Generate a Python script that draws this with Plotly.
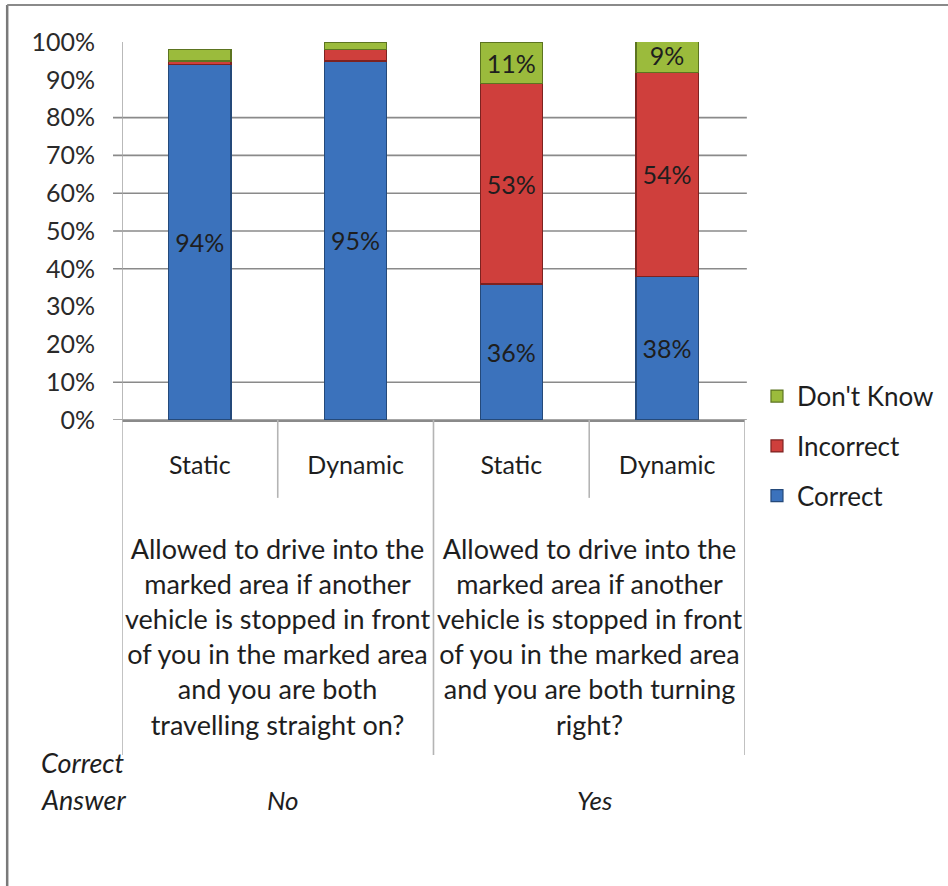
import plotly.graph_objects as go

# ---- data ----
positions = [0, 1, 2, 3]
bar_labels = ["Static", "Dynamic", "Static", "Dynamic"]
correct = [94, 95, 36, 38]
incorrect = [1, 3, 53, 54]
dont_know = [3, 2, 11, 9]
group_labels = [
    "Allowed to drive into the<br>marked area if another<br>vehicle is stopped in front<br>of you in the marked area<br>and you are both<br>travelling straight on?",
    "Allowed to drive into the<br>marked area if another<br>vehicle is stopped in front<br>of you in the marked area<br>and you are both turning<br>right?",
]
group_members = [[0, 1], [2, 3]]
correct_answers = ["No", "Yes"]
y_ticks = [0, 10, 20, 30, 40, 50, 60, 70, 80, 90, 100]
y_tick_text = [f"{v}%" for v in y_ticks]
visible_grid = [0, 10, 40, 50, 60, 70, 80]

FONT = "Lato"
TXT = "#1e1e1e"

def lbl(vals):
    return [f"{v}%" if v >= 5 else "" for v in vals]

series = [
    ("Correct", correct, "#3b72bc", "#24497a", 3),
    ("Incorrect", incorrect, "#cf3f3c", "#7d2220", 2),
    ("Don't Know", dont_know, "#9bbb3c", "#5c7420", 1),
]

fig = go.Figure()
for name, vals, col, edge, rank in series:
    fig.add_trace(go.Bar(
        x=positions, y=vals, name=name, legendgroup=name, legendrank=rank,
        marker=dict(color=col, line=dict(color=edge, width=1.2)),
        text=lbl(vals), textposition="inside", insidetextanchor="middle",
        textfont=dict(family=FONT, size=25, color=TXT),
        width=0.4, cliponaxis=True,
    ))

shapes = []
# visible gridlines (with tick stubs to the left of the axis)
for g in visible_grid:
    shapes.append(dict(type="line", xref="paper", yref="y", x0=-9/624, x1=1.003,
                       y0=g, y1=g, line=dict(color="#8a8a8a", width=1.6), layer="below"))
# category table lines
bounds = [p - 0.5 for p in positions] + [positions[-1] + 0.5]
for i, b in enumerate(bounds):
    long = (i % 2 == 0)
    shapes.append(dict(type="line", xref="x", yref="paper", x0=b, x1=b,
                       y0=0, y1=-0.886 if long else -0.206,
                       line=dict(color="#b4b4b4", width=1.6)))
# vertical axis line
shapes.append(dict(type="line", xref="x", yref="y", x0=-0.5, x1=-0.5, y0=0, y1=100,
                   line=dict(color="#a8a8a8", width=1.6)))
# outer chart border (left and top)
shapes.append(dict(type="line", xref="paper", yref="paper", x0=-0.1843, x1=-0.1843,
                   y0=1.098, y1=-1.3, line=dict(color="#7a7a7a", width=2.5)))
shapes.append(dict(type="line", xref="paper", yref="paper", x0=-0.1843, x1=1.4,
                   y0=1.098, y1=1.098, line=dict(color="#8a8a8a", width=2)))

annotations = []
for text, members, ans in zip(group_labels, group_members, correct_answers):
    cx = sum(positions[m] for m in members) / len(members)
    annotations.append(dict(x=cx, xref="x", y=-0.290, yref="paper", text=text,
                            showarrow=False, xanchor="center", yanchor="top",
                            font=dict(family=FONT, size=27, color=TXT)))
    annotations.append(dict(x=cx, xref="x", y=-1.005, yref="paper", text=f"<i>{ans}</i>",
                            showarrow=False, xanchor="center", yanchor="middle", xshift=5,
                            font=dict(family=FONT, size=26, color=TXT)))
annotations.append(dict(x=-0.134, xref="paper", y=-0.907, yref="paper", text="<i>Correct</i>",
                        showarrow=False, xanchor="left", yanchor="middle",
                        font=dict(family=FONT, size=27, color=TXT)))
annotations.append(dict(x=-0.134, xref="paper", y=-1.005, yref="paper", text="<i>Answer</i>",
                        showarrow=False, xanchor="left", yanchor="middle",
                        font=dict(family=FONT, size=27, color=TXT)))

fig.update_layout(
    width=948, height=886,
    margin=dict(l=122, r=202, t=42, b=466),
    paper_bgcolor="white", plot_bgcolor="white",
    barmode="stack", bargap=0.6,
    uniformtext=dict(minsize=25, mode="show"),
    font=dict(family=FONT, color=TXT),
    showlegend=True,
    legend=dict(xref="container", yref="container", x=0.7985, xanchor="left",
                y=0.4964, yanchor="middle",
                traceorder="grouped", tracegroupgap=13,
                font=dict(family=FONT, size=26, color=TXT),
                itemwidth=30, bgcolor="rgba(0,0,0,0)"),
    xaxis=dict(range=[-0.5, 3.5], tickvals=positions, ticktext=bar_labels,
               showgrid=False, zeroline=False, showline=True, linecolor="#8a8a8a",
               linewidth=1.6, ticks="", ticklabelstandoff=22,
               tickfont=dict(family=FONT, size=25, color=TXT), fixedrange=True),
    yaxis=dict(range=[0, 100], tickvals=y_ticks, ticktext=y_tick_text,
               showgrid=False, zeroline=False, showline=False, ticks="",
               ticklabelstandoff=26,
               tickfont=dict(family=FONT, size=25, color="#2a2a2a"), fixedrange=True),
    shapes=shapes, annotations=annotations,
)

fig.write_html("out.html", config={"displayModeBar": False},
               post_script="document.body.style.margin='0';")
